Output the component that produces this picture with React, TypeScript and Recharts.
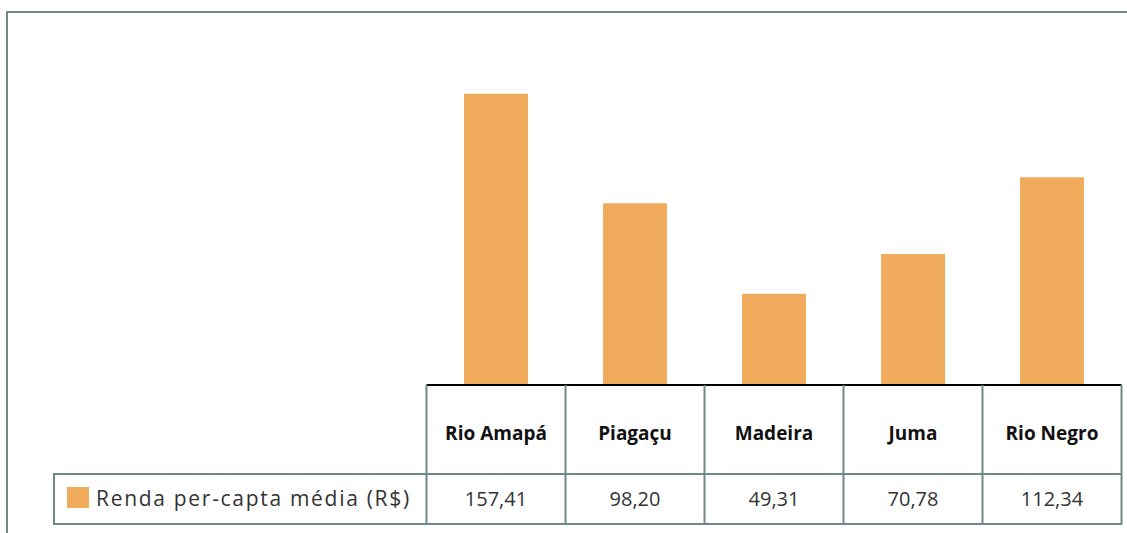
import React from "react";
import { BarChart, Bar, XAxis, YAxis } from "recharts";

// dados do gráfico
const regioes = ["Rio Amapá", "Piagaçu", "Madeira", "Juma", "Rio Negro"];
const renda = [157.41, 98.2, 49.31, 70.78, 112.34];
const rendaLabels = ["157,41", "98,20", "49,31", "70,78", "112,34"];
const serieNome = "Renda per-capta média (R$)";

const data = regioes.map((r, i) => ({ regiao: r, renda: renda[i], label: rendaLabels[i] }));

const W = 1127;
const H = 533;
const M_LEFT = 426.5;
const M_RIGHT = 5.5;
const AXIS_H = 148;
const BAND = (W - M_LEFT - M_RIGHT) / regioes.length;
const HEAD_H = 89;
const ROW_H = 50;
const GRID = "#72878a";
const COR = "#f0ab5c";
const FONT = "'Open Sans', 'Noto Sans', sans-serif";

const TableTick = (props: any) => {
  const { x, y, payload } = props;
  const i = payload.index;
  const left = x - BAND / 2;
  const right = x + BAND / 2;
  const yMid = y + HEAD_H;
  const yBot = yMid + ROW_H;
  return (
    <g>
      {i === 0 && (
        <g>
          <line x1={54} y1={yMid} x2={left} y2={yMid} stroke={GRID} strokeWidth={2} />
          <line x1={54} y1={yBot} x2={left} y2={yBot} stroke={GRID} strokeWidth={2} />
          <line x1={54} y1={yMid - 1} x2={54} y2={yBot + 1} stroke={GRID} strokeWidth={2} />
          <rect x={67} y={yMid + 13} width={22} height={21} fill={COR} />
          <text x={96} y={yMid + 32} fontSize={21} letterSpacing={1.7} fill="#333" fontFamily={FONT}>
            {serieNome}
          </text>
        </g>
      )}
      <line x1={left} y1={y} x2={left} y2={yBot + 1} stroke={GRID} strokeWidth={2} />
      {i === regioes.length - 1 && (
        <line x1={right} y1={y} x2={right} y2={yBot + 1} stroke={GRID} strokeWidth={2} />
      )}
      <line x1={left} y1={yMid} x2={right} y2={yMid} stroke={GRID} strokeWidth={2} />
      <line x1={left} y1={yBot} x2={right} y2={yBot} stroke={GRID} strokeWidth={2} />
      <text x={x} y={y + 55} textAnchor="middle" fontSize={19} fontWeight={700} fill="#111" fontFamily={FONT}>
        {payload.value}
      </text>
      <text x={x} y={yMid + 32} textAnchor="middle" fontSize={20} fill="#333" fontFamily={FONT}>
        {rendaLabels[i]}
      </text>
    </g>
  );
};

export default function App() {
  return (
    <div style={{ position: "relative", width: W, height: H, overflow: "hidden" }}>
      <style>{"body{margin:0;overflow:hidden}"}</style>
      <div
        style={{
          position: "absolute",
          left: 6,
          top: 11,
          width: W - 6,
          height: H - 11,
          borderLeft: `2px solid ${GRID}`,
          borderTop: `2px solid ${GRID}`,
          boxSizing: "border-box",
        }}
      />
      <div style={{ position: "absolute", left: 0, top: 0 }}>
        <BarChart
          width={W}
          height={H}
          data={data}
          margin={{ top: 15, right: M_RIGHT, left: M_LEFT, bottom: 0 }}
          barCategoryGap="27%"
        >
          <YAxis hide domain={[0, 200]} />
          <XAxis
            dataKey="regiao"
            height={AXIS_H}
            axisLine={{ stroke: "#000", strokeWidth: 2 }}
            tickLine={false}
            tickSize={0}
            tickMargin={0}
            interval={0}
            tick={<TableTick />}
          />
          <Bar dataKey="renda" fill={COR} isAnimationActive={false} />
        </BarChart>
      </div>
    </div>
  );
}
